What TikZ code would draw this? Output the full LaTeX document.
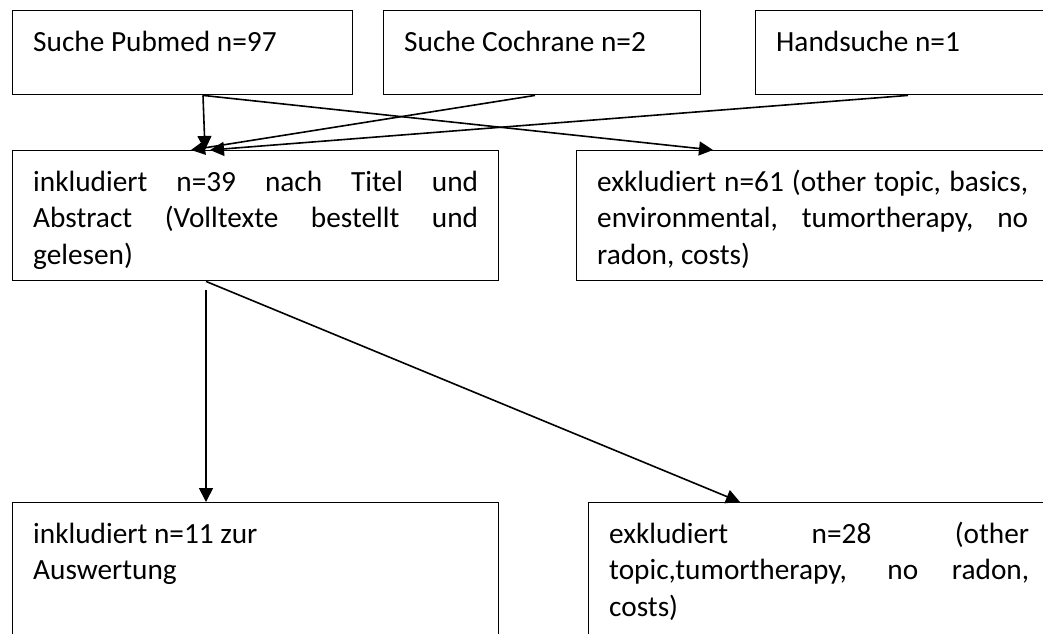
\documentclass[tikz,border=0pt]{standalone}
\usepackage{fontspec}
\setmainfont{Carlito}
\usetikzlibrary{arrows.meta}
\newcommand\flowfont{\fontsize{29.3pt}{36.7pt}\selectfont}
\tikzset{
  box/.style={draw, line width=1.4pt, anchor=north west, inner xsep=20.5pt, inner ysep=0pt,
    align=justify, text height=40.5pt, font=\flowfont},
  arr/.style={line width=1.6pt, -{Triangle[length=14pt,width=14pt]}}
}
\begin{document}
\begin{tikzpicture}[x=1pt, y=-1pt]
  \useasboundingbox (0,0) rectangle (1043,633);
  \clip (0,0) rectangle (1043,633);
  \node[box, text width=299pt, text depth=43.5pt] (pub) at (12,10) {Suche Pubmed n=97};
  \node[box, text width=276pt, text depth=43.5pt] (coch) at (383,10) {Suche Cochrane n=2};
  \node[box, text width=300pt, text depth=43.5pt] (hand) at (755,10) {Handsuche n=1};
  \node[box, text width=445pt, text depth=89.5pt] (incl) at (12,150)
    {inkludiert n=39 nach Titel und\linebreak Abstract (Volltexte bestellt und\linebreak gelesen)};
  \node[box, text width=431pt, text depth=89.5pt] (excl) at (576,150)
    {exkludiert n=61 (other topic, basics,\linebreak environmental, tumortherapy, no\linebreak radon, costs)};
  \node[box, text width=445pt, text depth=150pt] (final) at (12,502) {inkludiert n=11 zur\\Auswertung};
  \node[box, text width=420pt, text depth=150pt] (rest) at (588,502)
    {exkludiert n=28 (other\linebreak topic,tumortherapy, no radon,\linebreak costs)};
  \draw[arr] ([xshift=191pt]pub.south west) -- ([xshift=193pt]incl.north west);
  \draw[arr] ([xshift=191pt]pub.south west) -- ([xshift=137pt]excl.north west);
  \draw[arr] ([xshift=152pt]coch.south west) -- ([xshift=179pt]incl.north west);
  \draw[arr] ([xshift=153pt]hand.south west) -- ([xshift=198pt]incl.north west);
  \draw[arr] ([xshift=194pt, yshift=-9pt]incl.south west) -- ([xshift=194pt]final.north west);
  \draw[arr] ([xshift=194pt]incl.south west) -- ([xshift=152pt]rest.north west);
\end{tikzpicture}
\end{document}
